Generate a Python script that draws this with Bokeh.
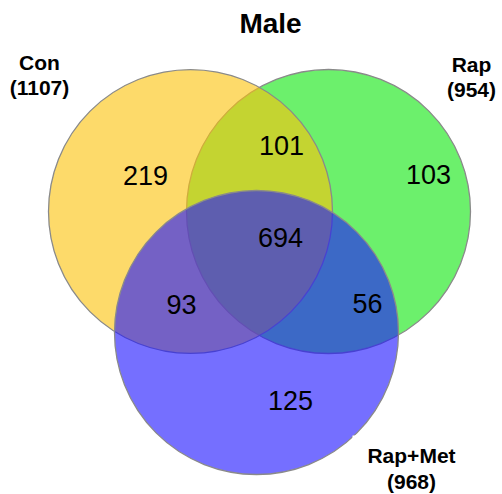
from bokeh.plotting import figure
from bokeh.models import Range1d, ColumnDataSource
from bokeh.core.properties import value
from bokeh.embed import file_html
from bokeh.resources import INLINE

# ---- data ----
title = "Male"
set_names = ["Con", "Rap", "Rap+Met"]
set_totals = [1107, 954, 968]
region_names = ["Con only", "Con&Rap", "Rap only", "All", "Con&RapMet", "Rap&RapMet", "RapMet only"]
region_counts = [219, 101, 103, 694, 93, 56, 125]

# ---- layout (pixel space of the page) ----
W, H = 502, 494
circle_x = [190, 328, 256]
circle_y = [211, 211, 332]
circle_r = 142
circle_colors = ["#0ee60e", "#fcc20b", "#1d14ff"]  # drawn order: Rap, Con, Rap+Met
draw_order = [1, 0, 2]
region_x = [145, 281, 428, 280, 181, 367, 290]
region_y = [175, 145, 174, 237, 304, 303, 400]
label_x = [39, 471, 411]
label_y1 = [62, 64, 455]
label_y2 = [87, 89, 481]

p = figure(width=W, height=H, output_backend="svg", toolbar_location=None,
           x_range=Range1d(0, W), y_range=Range1d(H, 0),
           min_border=0)
p.axis.visible = False
p.grid.visible = False
p.outline_line_color = None
p.background_fill_color = "white"

for i, k in enumerate(draw_order):
    p.circle(x=[circle_x[k]], y=[circle_y[k]], radius=circle_r,
             fill_color=circle_colors[i], fill_alpha=0.61,
             line_color="#8a8a8a", line_width=1.3)

# white label box notch
p.quad(left=[352], right=[470], top=[435], bottom=[494], fill_color="white", line_color=None)

src = ColumnDataSource(dict(x=region_x, y=region_y, t=[str(c) for c in region_counts]))
p.text(x="x", y="y", text="t", source=src, text_align="center", text_baseline="middle",
       text_font=value("Liberation Sans"), text_font_size="27px", text_color="black")

lsrc = ColumnDataSource(dict(x=label_x + label_x,
                             y=label_y1 + label_y2,
                             t=set_names + [f"({v})" for v in set_totals]))
p.text(x="x", y="y", text="t", source=lsrc, text_align="center", text_baseline="middle",
       text_font=value("Liberation Sans"), text_font_size="21px", text_font_style="bold",
       text_color="black")

p.text(x=[270], y=[23], text=[title], text_align="center", text_baseline="middle",
       text_font=value("Liberation Sans"), text_font_size="28px", text_font_style="bold",
       text_color="black")

open("out.html", "w").write(file_html(p, INLINE))
